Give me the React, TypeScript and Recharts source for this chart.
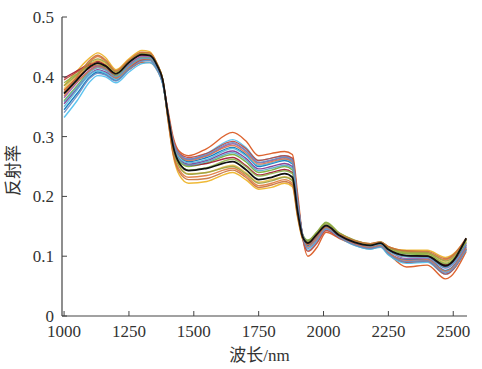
import React from 'react';
import { LineChart, Line, XAxis, YAxis, Label } from 'recharts';

// wavelength sample points (nm)
const wavelengths = [1000, 1050, 1100, 1130, 1160, 1200, 1250, 1300, 1330, 1360, 1380, 1400, 1420, 1445, 1480, 1550, 1650, 1700, 1750, 1800, 1850, 1880, 1900, 1920, 1940, 1975, 2010, 2060, 2120, 2180, 2220, 2250, 2320, 2400, 2470, 2550];

const xTicks = [1000, 1250, 1500, 1750, 2000, 2250, 2500];
const yTicks = [0, 0.1, 0.2, 0.3, 0.4, 0.5];

// mean spectrum (black)
const meanSpectrum = [0.372, 0.395, 0.417, 0.423, 0.418, 0.405, 0.424, 0.437, 0.436, 0.418, 0.395, 0.338, 0.285, 0.255, 0.243, 0.247, 0.258, 0.245, 0.228, 0.232, 0.238, 0.232, 0.175, 0.132, 0.122, 0.137, 0.151, 0.135, 0.123, 0.118, 0.122, 0.111, 0.101, 0.1, 0.084, 0.13];

// individual sample spectra
const s1 = [0.378, 0.398, 0.415, 0.42, 0.415, 0.398, 0.412, 0.424, 0.424, 0.41, 0.39, 0.345, 0.3, 0.275, 0.268, 0.28, 0.307, 0.293, 0.268, 0.272, 0.275, 0.27, 0.205, 0.13, 0.1, 0.115, 0.14, 0.13, 0.12, 0.115, 0.118, 0.105, 0.082, 0.085, 0.062, 0.108];
const s2 = [0.332, 0.36, 0.392, 0.402, 0.4, 0.39, 0.408, 0.422, 0.424, 0.41, 0.388, 0.34, 0.295, 0.27, 0.262, 0.272, 0.295, 0.282, 0.26, 0.264, 0.268, 0.262, 0.195, 0.13, 0.11, 0.125, 0.145, 0.132, 0.118, 0.112, 0.116, 0.103, 0.088, 0.09, 0.07, 0.112];
const s3 = [0.385, 0.41, 0.432, 0.44, 0.432, 0.412, 0.43, 0.444, 0.442, 0.42, 0.395, 0.33, 0.27, 0.235, 0.222, 0.225, 0.24, 0.228, 0.212, 0.215, 0.222, 0.216, 0.165, 0.128, 0.12, 0.135, 0.148, 0.136, 0.125, 0.12, 0.123, 0.115, 0.11, 0.11, 0.098, 0.128];
const s4 = [0.36, 0.385, 0.41, 0.418, 0.414, 0.402, 0.42, 0.432, 0.432, 0.415, 0.392, 0.335, 0.285, 0.258, 0.25, 0.256, 0.27, 0.258, 0.24, 0.244, 0.25, 0.244, 0.182, 0.136, 0.126, 0.14, 0.156, 0.138, 0.125, 0.119, 0.123, 0.113, 0.104, 0.102, 0.086, 0.128];
const s5 = [0.355, 0.38, 0.405, 0.412, 0.408, 0.398, 0.418, 0.43, 0.43, 0.414, 0.392, 0.336, 0.288, 0.262, 0.254, 0.26, 0.276, 0.264, 0.246, 0.25, 0.255, 0.25, 0.185, 0.134, 0.124, 0.137, 0.152, 0.136, 0.124, 0.118, 0.122, 0.112, 0.1, 0.099, 0.082, 0.122];
const s6 = [0.398, 0.41, 0.422, 0.426, 0.42, 0.406, 0.425, 0.436, 0.435, 0.418, 0.396, 0.34, 0.29, 0.262, 0.252, 0.255, 0.265, 0.252, 0.236, 0.24, 0.245, 0.24, 0.178, 0.132, 0.122, 0.136, 0.15, 0.136, 0.124, 0.118, 0.121, 0.11, 0.1, 0.1, 0.085, 0.118];
const s7 = [0.345, 0.372, 0.4, 0.408, 0.404, 0.394, 0.414, 0.428, 0.428, 0.412, 0.39, 0.338, 0.292, 0.268, 0.258, 0.265, 0.282, 0.27, 0.25, 0.255, 0.26, 0.254, 0.19, 0.135, 0.118, 0.132, 0.15, 0.134, 0.12, 0.114, 0.119, 0.106, 0.094, 0.095, 0.076, 0.115];
const s8 = [0.368, 0.395, 0.425, 0.434, 0.426, 0.408, 0.426, 0.44, 0.44, 0.42, 0.396, 0.332, 0.275, 0.244, 0.232, 0.235, 0.247, 0.235, 0.218, 0.222, 0.228, 0.222, 0.17, 0.13, 0.121, 0.136, 0.15, 0.138, 0.126, 0.121, 0.124, 0.116, 0.108, 0.106, 0.094, 0.13];
const s9 = [0.38, 0.402, 0.42, 0.428, 0.422, 0.408, 0.426, 0.438, 0.438, 0.42, 0.396, 0.336, 0.28, 0.25, 0.238, 0.24, 0.252, 0.24, 0.224, 0.228, 0.233, 0.228, 0.172, 0.131, 0.123, 0.138, 0.152, 0.138, 0.126, 0.12, 0.123, 0.114, 0.106, 0.104, 0.09, 0.125];
const s10 = [0.35, 0.378, 0.404, 0.41, 0.406, 0.396, 0.415, 0.428, 0.428, 0.412, 0.39, 0.336, 0.289, 0.264, 0.256, 0.262, 0.28, 0.268, 0.252, 0.256, 0.262, 0.256, 0.19, 0.132, 0.115, 0.13, 0.148, 0.132, 0.118, 0.112, 0.115, 0.102, 0.09, 0.093, 0.074, 0.11];
const s11 = [0.39, 0.405, 0.418, 0.422, 0.416, 0.402, 0.42, 0.432, 0.432, 0.416, 0.394, 0.334, 0.282, 0.254, 0.244, 0.248, 0.262, 0.25, 0.234, 0.238, 0.243, 0.238, 0.178, 0.135, 0.127, 0.141, 0.157, 0.139, 0.126, 0.12, 0.124, 0.115, 0.105, 0.104, 0.088, 0.124];
const s12 = [0.365, 0.39, 0.412, 0.418, 0.413, 0.4, 0.42, 0.434, 0.434, 0.416, 0.394, 0.34, 0.294, 0.27, 0.262, 0.268, 0.288, 0.276, 0.256, 0.26, 0.265, 0.26, 0.192, 0.135, 0.12, 0.134, 0.15, 0.134, 0.121, 0.117, 0.122, 0.11, 0.096, 0.097, 0.08, 0.118];
const s13 = [0.395, 0.408, 0.42, 0.424, 0.418, 0.4, 0.416, 0.428, 0.43, 0.414, 0.392, 0.34, 0.296, 0.272, 0.265, 0.272, 0.292, 0.28, 0.26, 0.264, 0.268, 0.264, 0.196, 0.13, 0.108, 0.122, 0.143, 0.131, 0.12, 0.114, 0.118, 0.106, 0.09, 0.092, 0.07, 0.112];
const s14 = [0.372, 0.392, 0.41, 0.416, 0.412, 0.398, 0.416, 0.43, 0.43, 0.414, 0.392, 0.342, 0.294, 0.268, 0.26, 0.268, 0.285, 0.273, 0.254, 0.258, 0.263, 0.258, 0.192, 0.133, 0.116, 0.13, 0.147, 0.133, 0.12, 0.115, 0.118, 0.106, 0.093, 0.094, 0.075, 0.114];
const s15 = [0.358, 0.383, 0.408, 0.415, 0.411, 0.4, 0.418, 0.431, 0.431, 0.415, 0.392, 0.337, 0.287, 0.261, 0.252, 0.258, 0.273, 0.261, 0.243, 0.247, 0.252, 0.247, 0.184, 0.134, 0.123, 0.137, 0.152, 0.136, 0.123, 0.117, 0.12, 0.109, 0.099, 0.098, 0.081, 0.12];
const s16 = [0.385, 0.404, 0.424, 0.43, 0.424, 0.408, 0.426, 0.439, 0.438, 0.42, 0.396, 0.334, 0.279, 0.249, 0.237, 0.24, 0.25, 0.238, 0.222, 0.226, 0.232, 0.226, 0.17, 0.131, 0.124, 0.139, 0.154, 0.139, 0.127, 0.121, 0.123, 0.115, 0.107, 0.106, 0.092, 0.127];
const s17 = [0.375, 0.4, 0.428, 0.436, 0.428, 0.41, 0.428, 0.441, 0.44, 0.42, 0.395, 0.33, 0.272, 0.24, 0.228, 0.23, 0.244, 0.232, 0.215, 0.219, 0.225, 0.219, 0.167, 0.129, 0.12, 0.135, 0.149, 0.137, 0.126, 0.121, 0.124, 0.116, 0.109, 0.108, 0.096, 0.13];
const s18 = [0.34, 0.368, 0.398, 0.406, 0.403, 0.393, 0.412, 0.426, 0.427, 0.412, 0.39, 0.339, 0.293, 0.27, 0.262, 0.27, 0.29, 0.277, 0.257, 0.261, 0.266, 0.26, 0.193, 0.133, 0.113, 0.127, 0.146, 0.132, 0.119, 0.113, 0.116, 0.104, 0.091, 0.092, 0.072, 0.111];

const samples = [s1, s2, s3, s4, s5, s6, s7, s8, s9, s10, s11, s12, s13, s14, s15, s16, s17, s18];
const colors = ['#D95319', '#4DBEEE', '#EDB120', '#77AC30', '#7E2F8E', '#A2142F', '#0072BD', '#E07A3C', '#E8C04A', '#56B8D8', '#8DB04A', '#9A5AA8', '#C0443A', '#D9774F', '#5AA9C8', '#9AA040', '#C8703A', '#6A8CC0'];

const data = wavelengths.map((wl, i) => {
  const row: any = { wl, mean: meanSpectrum[i] };
  samples.forEach((s, k) => { row[`s${k + 1}`] = s[i]; });
  return row;
});

const axisColor = '#444';
const font = '"Liberation Serif", "Noto Sans CJK SC", serif';

const XTick = (props: any) => {
  const { x, y, payload } = props;
  return (
    <g>
      <line x1={x} x2={x} y1={y - 9} y2={y - 14} stroke={axisColor} strokeWidth={1} />
      <text x={x} y={y} dy="0.71em" textAnchor="middle" fontSize={17} fontFamily={font} fill="#333">{payload.value}</text>
    </g>
  );
};

const YTick = (props: any) => {
  const { x, y, payload } = props;
  return (
    <g>
      <line x1={x + 8} x2={x + 13} y1={y} y2={y} stroke={axisColor} strokeWidth={1} />
      <text x={x} y={y} dy="0.355em" textAnchor="end" fontSize={17} fontFamily={font} fill="#333">{payload.value}</text>
    </g>
  );
};

export default function App() {
  return (
    <div style={{ position: 'absolute', left: 0, top: 0, background: '#fff' }}>
      <LineChart width={482} height={369} data={data} margin={{ top: 17, right: 15, left: 0, bottom: 0 }}>
        <XAxis
          dataKey="wl"
          type="number"
          domain={[992, 2553]}
          ticks={xTicks}
          tickSize={0}
          tickMargin={9}
          tick={<XTick />}
          height={53}
          axisLine={{ stroke: axisColor, strokeWidth: 1.2 }}
          tickLine={false}
          allowDataOverflow
        >
          <Label value="波长/nm" position="insideBottom" offset={8} dx={-5} style={{ fontSize: 17, fontFamily: font, fill: '#333' }} />
        </XAxis>
        <YAxis
          type="number"
          domain={[0, 0.5]}
          ticks={yTicks}
          tickSize={0}
          tickMargin={8}
          tick={<YTick />}
          width={62}
          axisLine={{ stroke: axisColor, strokeWidth: 1.2 }}
          tickLine={false}
        >
          <Label value="反射率" position="insideLeft" angle={-90} offset={13} dy={4} style={{ fontSize: 17, fontFamily: font, fill: '#333', textAnchor: 'middle' }} />
        </YAxis>
        {samples.map((_, k) => (
          <Line
            key={k}
            dataKey={`s${k + 1}`}
            type="monotone"
            stroke={colors[k]}
            strokeWidth={1.4}
            strokeOpacity={0.9}
            dot={false}
            isAnimationActive={false}
          />
        ))}
        <Line dataKey="mean" type="monotone" stroke="#111" strokeWidth={1.8} dot={false} isAnimationActive={false} />
      </LineChart>
    </div>
  );
}
